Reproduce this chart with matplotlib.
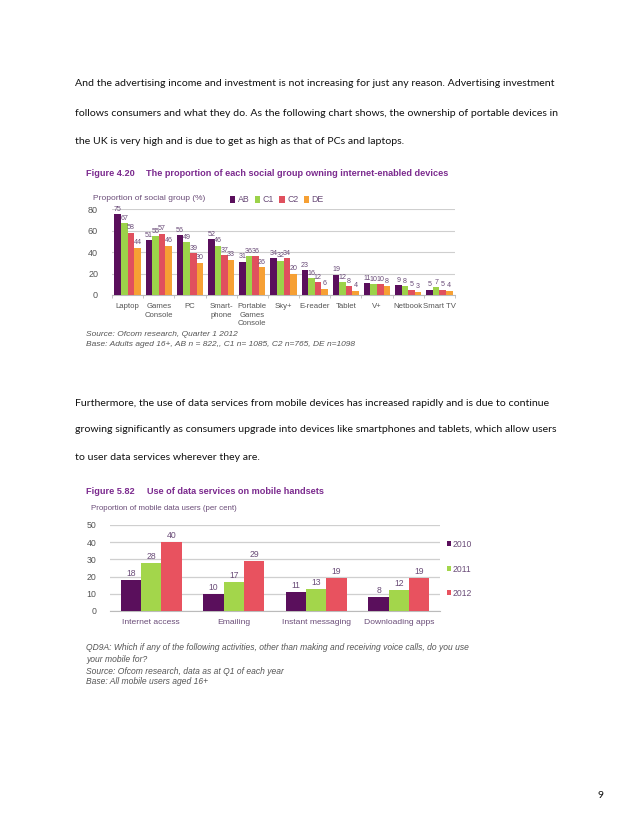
import numpy as np
import matplotlib
matplotlib.use('Agg')
import matplotlib.pyplot as plt

# Page size in pixels
W, H = 638, 826

# Chart 1 data: ownership of internet-enabled devices by social group
devices = ['Laptop', 'Games\nConsole', 'PC', 'Smart-\nphone', 'Portable\nGames\nConsole',
           'Sky+', 'E-reader', 'Tablet', 'V+', 'Netbook', 'Smart TV']
groups = ['AB', 'C1', 'C2', 'DE']
ab = [75, 51, 56, 52, 31, 34, 23, 19, 11, 9, 5]
c1 = [67, 55, 49, 46, 36, 32, 16, 12, 10, 8, 7]
c2 = [58, 57, 39, 37, 36, 34, 12, 8, 10, 5, 5]
de = [44, 46, 30, 33, 26, 20, 6, 4, 8, 3, 4]

# Chart 2 data: use of data services on mobile handsets
activities = ['Internet access', 'Emailing', 'Instant messaging', 'Downloading apps']
years = ['2010', '2011', '2012']
y2010 = [18, 10, 11, 8]
y2011 = [28, 17, 13, 12]
y2012 = [40, 29, 19, 19]

PURPLE = '#7B2A8E'
LABEL = '#6A4C78'
GREY = '#555555'
cols1 = ['#5A0F5C', '#9CD24A', '#E0505E', '#F6A034']
cols2 = ['#5A0F5C', '#A3D64B', '#E8525F']

fig = plt.figure(figsize=(W / 100, H / 100), dpi=100)
fig.patch.set_facecolor('white')


def ftext(x, y, s, **kw):
    # place text using pixel coordinates of the page
    return fig.text(x / W, 1 - y / H, s, **kw)


def axes_px(x0, x1, ytop, ybot):
    return fig.add_axes([x0 / W, 1 - ybot / H, (x1 - x0) / W, (ybot - ytop) / H])


body = dict(family='Lato', fontsize=7.55, color='#111111', va='center')
para1 = ['And the advertising income and investment is not increasing for just any reason. Advertising investment',
         'follows consumers and what they do. As the following chart shows, the ownership of portable devices in',
         'the UK is very high and is due to get as high as that of PCs and laptops.']
for yy, line in zip([83, 114, 141], para1):
    ftext(75, yy, line, **body)

para2 = ['Furthermore, the use of data services from mobile devices has increased rapidly and is due to continue',
         'growing significantly as consumers upgrade into devices like smartphones and tablets, which allow users',
         'to user data services wherever they are.']
for yy, line in zip([403, 430, 457], para2):
    ftext(75, yy, line, **body)

ftext(598, 796, '9', **body)

# ---------------- Chart 1 ----------------
ttl = dict(family='Liberation Sans', fontsize=6.6, fontweight='bold', color=PURPLE, va='center')
ftext(86, 173, 'Figure 4.20', **ttl)
ftext(146, 173, 'The proportion of each social group owning internet-enabled devices', **ttl)
ftext(93, 198, 'Proportion of social group (%)', family='Liberation Sans', fontsize=6,
      color=LABEL, va='center')

ax1 = axes_px(112, 455, 209, 295)
x = np.arange(len(devices))
bw = 0.21
series1 = [ab, c1, c2, de]
for i, (vals, col, g) in enumerate(zip(series1, cols1, groups)):
    pos = x + (i - 1.5) * bw
    ax1.bar(pos, vals, bw, color=col, label=g, zorder=3)
    for p, v in zip(pos, vals):
        ax1.text(p, v + 1.2, str(v), ha='center', va='bottom', fontsize=5.1,
                 color=LABEL, family='Liberation Sans')
ax1.set_xlim(-0.5, len(devices) - 0.5)
ax1.set_ylim(0, 80)
ax1.set_yticks([0, 20, 40, 60, 80])
ax1.yaxis.grid(True, color='#CFCFCF', linewidth=0.8, zorder=0)
ax1.set_xticks(x)
ax1.set_xticklabels(devices, fontsize=5.6, color=GREY, family='Liberation Sans',
                    linespacing=1.3, va='top')
ax1.set_xticks(np.arange(len(devices) + 1) - 0.5, minor=True)
ax1.tick_params(axis='x', which='major', length=0, pad=6)
ax1.tick_params(axis='x', which='minor', length=2.5, color='#BBBBBB')
ax1.tick_params(axis='y', length=0, labelsize=6.5, labelcolor=GREY, pad=10)
for lab in ax1.get_yticklabels():
    lab.set_family('Liberation Sans')
for s in ['top', 'right', 'left']:
    ax1.spines[s].set_visible(False)
ax1.spines['bottom'].set_color('#BBBBBB')
leg1 = ax1.legend(ncol=4, loc='center left', bbox_to_anchor=(230 / W, 1 - 200 / H),
                  bbox_transform=fig.transFigure, frameon=False, fontsize=6.3,
                  handlelength=0.6, handleheight=0.7, handletextpad=0.3,
                  columnspacing=0.6, borderaxespad=0, borderpad=0)
for t in leg1.get_texts():
    t.set_color(LABEL)
    t.set_family('Liberation Sans')

note = dict(family='Liberation Sans', fontsize=6.05, style='italic', color=GREY, va='center')
ftext(86, 334, 'Source: Ofcom research, Quarter 1 2012', **note)
ftext(86, 345, 'Base: Adults aged 16+, AB n = 822,, C1 n= 1085, C2 n=765, DE n=1098', **note)

# ---------------- Chart 2 ----------------
ftext(86, 491, 'Figure 5.82', **ttl)
ftext(147, 491, 'Use of data services on mobile handsets', **ttl)
ftext(91, 509, 'Proportion of mobile data users (per cent)', family='Liberation Sans',
      fontsize=5.7, color=LABEL, va='center')

ax2 = axes_px(110, 440, 525, 611)
x2 = np.arange(len(activities))
bw2 = 0.245
series2 = [y2010, y2011, y2012]
for i, (vals, col, yr) in enumerate(zip(series2, cols2, years)):
    pos = x2 + (i - 1) * bw2
    ax2.bar(pos, vals, bw2, color=col, label=yr, zorder=3)
    for p, v in zip(pos, vals):
        ax2.text(p, v + 1.2, str(v), ha='center', va='bottom', fontsize=6.2,
                 color=LABEL, family='Liberation Sans')
ax2.set_xlim(-0.5, len(activities) - 0.5)
ax2.set_ylim(0, 50)
ax2.set_yticks([0, 10, 20, 30, 40, 50])
ax2.yaxis.grid(True, color='#CFCFCF', linewidth=0.9, zorder=0)
ax2.set_xticks(x2)
ax2.set_xticklabels(activities, fontsize=6.1, color=LABEL, family='Liberation Sans')
ax2.tick_params(axis='x', length=0, pad=6)
ax2.tick_params(axis='y', length=0, labelsize=6.3, labelcolor=GREY, pad=10)
for lab in ax2.get_yticklabels():
    lab.set_family('Liberation Sans')
for s in ['top', 'right', 'left']:
    ax2.spines[s].set_visible(False)
ax2.spines['bottom'].set_color('#BBBBBB')
leg2 = ax2.legend(loc='upper left', bbox_to_anchor=(447 / W, 1 - 540 / H),
                  bbox_transform=fig.transFigure, frameon=False, fontsize=6.2,
                  handlelength=0.5, handleheight=0.5, handletextpad=0.2,
                  labelspacing=1.8, borderaxespad=0, borderpad=0)
for t in leg2.get_texts():
    t.set_color(LABEL)
    t.set_family('Liberation Sans')

note2 = dict(note, fontsize=6.15)
ftext(86, 648, 'QD9A: Which if any of the following activities, other than making and receiving voice calls, do you use', **note2)
ftext(86, 660, 'your mobile for?', **note2)
ftext(86, 671, 'Source: Ofcom research, data as at Q1 of each year', **note2)
ftext(86, 682, 'Base: All mobile users aged 16+', **note2)

fig.savefig('out.png', dpi=100, facecolor='white')
